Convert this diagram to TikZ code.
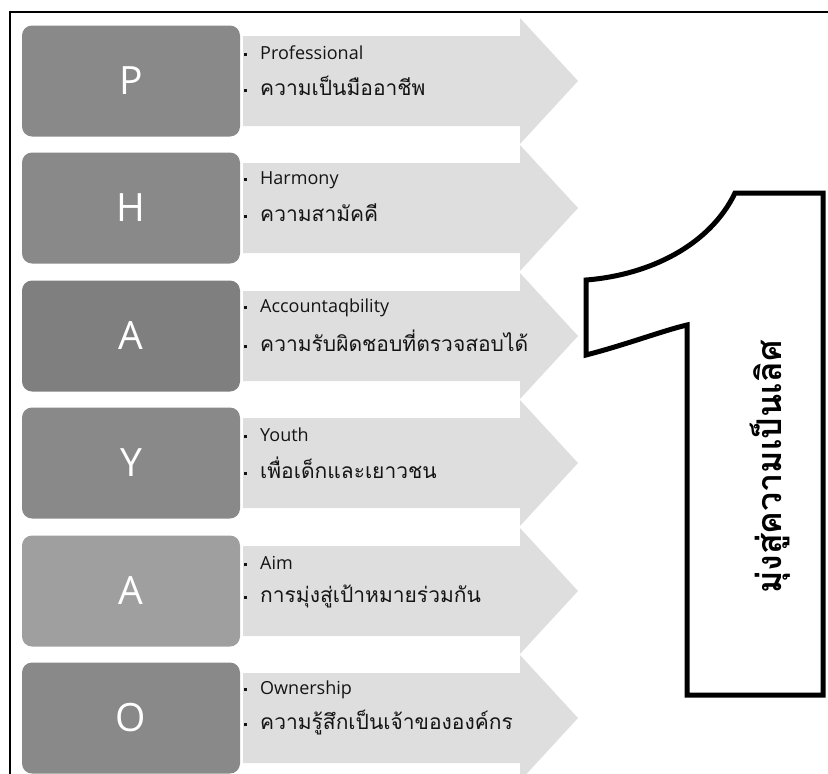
\documentclass[tikz,border=0pt]{standalone}
\usepackage{fontspec}
\setmainfont{Open Sans}
\newfontfamily\thaifont[Script=Thai]{Loma}
\usepackage{xcolor}
\definecolor{blkgray} {RGB}{137,137,137}
\definecolor{blkdark} {RGB}{127,127,127}
\definecolor{blklight}{RGB}{159,159,159}
\definecolor{arrowgray}{RGB}{222,222,222}
\definecolor{txtdark} {RGB}{ 20, 20, 20}
\newcommand{\itemdot}{\makebox[17pt][l]{\hspace{1pt}\raisebox{3.5pt}{\rule{3pt}{3pt}}}}

\begin{document}
\begin{tikzpicture}[x=1pt,y=-1pt,
  every node/.style={inner sep=0pt},
  letterblk/.style={rounded corners=10pt,minimum width=218pt,minimum height=111pt,
                    text=white,font=\fontsize{39}{40}\selectfont},
  band/.style={fill=arrowgray},
  itemtxt/.style={anchor=west,text=txtdark,font=\fontsize{18}{20}\selectfont},
  thaitxt/.style={anchor=west,text=txtdark,font=\thaifont\fontsize{21}{24}\selectfont},
  bigone/.style={draw=black,fill=white,line width=5pt,miter limit=20},
]
\useasboundingbox (0,0) rectangle (828,774);

%% ── frame ───────────────────────────────────────────────────────────────
\draw[line width=2.5pt] (828,12) -- (10,12) -- (10,774);

%% ── arrows behind the rows ──────────────────────────────────────────────
\fill[band] (243,36) -- (520,36) -- (520,18) -- (578,81) -- (520,144) -- (520,126) -- (243,126) -- cycle;
\fill[band] (243,163) -- (520,163) -- (520,145) -- (578,208) -- (520,271) -- (520,253) -- (243,253) -- cycle;
\fill[band] (243,291) -- (520,291) -- (520,273) -- (578,336) -- (520,399) -- (520,381) -- (243,381) -- cycle;
\fill[band] (243,418) -- (520,418) -- (520,400) -- (578,463) -- (520,526) -- (520,508) -- (243,508) -- cycle;
\fill[band] (243,546) -- (520,546) -- (520,528) -- (578,591) -- (520,654) -- (520,636) -- (243,636) -- cycle;
\fill[band] (243,673) -- (520,673) -- (520,655) -- (578,718) -- (520,781) -- (520,763) -- (243,763) -- cycle;

%% ── P ───────────────────────────────────────────────────────────────────
\node[letterblk,fill=blkgray] (P) at (131,81) {P};
\node[itemtxt] (P1) at (243,53) {\itemdot Professional};
\node[thaitxt] (P2) at (243,86) {\itemdot ความเป็นมืออาชีพ};

%% ── H ───────────────────────────────────────────────────────────────────
\node[letterblk,fill=blkgray] (H) at (131,208) {H};
\node[itemtxt] (H1) at (243,180) {\itemdot Harmony};
\node[thaitxt] (H2) at (243,213) {\itemdot ความสามัคคี};

%% ── A ───────────────────────────────────────────────────────────────────
\node[letterblk,fill=blkdark] (A) at (131,336) {A};
\node[itemtxt] (A1) at (243,308) {\itemdot Accountaqbility};
\node[thaitxt] (A2) at (243,341) {\itemdot ความรับผิดชอบที่ตรวจสอบได้};

%% ── Y ───────────────────────────────────────────────────────────────────
\node[letterblk,fill=blkgray] (Y) at (131,463) {Y};
\node[itemtxt] (Y1) at (243,435) {\itemdot Youth};
\node[thaitxt] (Y2) at (243,468) {\itemdot เพื่อเด็กและเยาวชน};

%% ── A (aim) ─────────────────────────────────────────────────────────────
\node[letterblk,fill=blklight] (Aim) at (131,591) {A};
\node[itemtxt] (Aim1) at (243,563) {\itemdot Aim};
\node[thaitxt] (Aim2) at (243,596) {\itemdot การมุ่งสู่เป้าหมายร่วมกัน};

%% ── O ───────────────────────────────────────────────────────────────────
\node[letterblk,fill=blkgray] (O) at (131,718) {O};
\node[itemtxt] (O1) at (243,690) {\itemdot Ownership};
\node[thaitxt] (O2) at (243,723) {\itemdot ความรู้สึกเป็นเจ้าขององค์กร};

%% ── the big "1" with the goal ───────────────────────────────────────────
\draw[bigone] (735,193) -- (823,193) -- (823,695) -- (687,695) -- (687,325)
  .. controls (665,330) and (625,345) .. (586,355) -- (586,280)
  .. controls (650,275) and (710,245) .. (735,193) -- cycle;
\node[rotate=90,font=\thaifont\bfseries\fontsize{34}{38}\selectfont] (goal) at (770,467) {มุ่งสู่ความเป็นเลิศ};

\end{tikzpicture}
\end{document}
